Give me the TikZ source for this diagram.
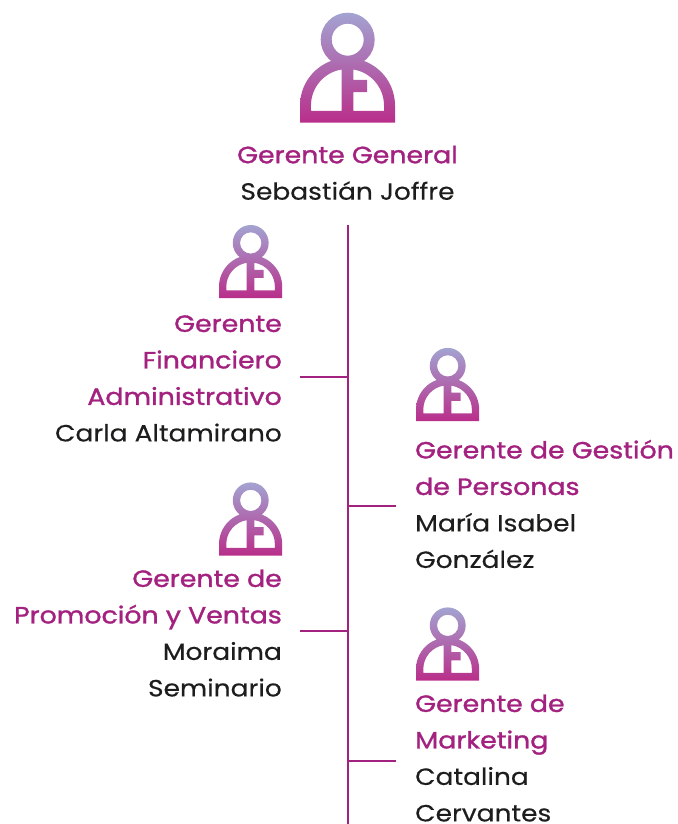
\documentclass[tikz,border=0pt]{standalone}
\usepackage{fontspec}
\setmainfont[FakeStretch=1.125,FakeBold=0.35]{Poppins}
\newfontfamily\titlefont[FakeStretch=1.14,FakeBold=1.3]{Poppins}
\definecolor{magentaTitle}{HTML}{A3217F}
\definecolor{bodyBlack}{HTML}{1D1D1B}
\definecolor{iconTop}{HTML}{A3A3D1}
\definecolor{iconBottom}{HTML}{B92E8A}
\newcommand{\strutline}{\rule{0pt}{18pt}}
\newcommand{\ttl}[1]{{\titlefont\color{magentaTitle}#1}}
\tikzset{
  lbl/.style={inner sep=0pt,font=\fontsize{23.5}{36.5}\selectfont,text=bodyBlack},
  lblR/.style={lbl,anchor=north east,align=right},
  lblL/.style={lbl,anchor=north west,align=left},
  lblC/.style={lbl,anchor=north,align=center},
  linkline/.style={draw=magentaTitle,line width=1.9pt},
}
\newcommand{\personicon}[3]{% x, y (top left), scale
  \begin{scope}[shift={(#1,#2)},scale=#3]
    \path[top color=iconTop,bottom color=iconBottom,nonzero rule]
      (47.7,0) arc[start angle=-90,end angle=270,radius=27] -- cycle
      (47.7,11) arc[start angle=-90,end angle=-450,radius=16] -- cycle
      (0,110) -- (0,92.8) arc[start angle=180,end angle=360,radius=47.5] -- (95,110) -- cycle
      (11,98.3) -- (41.7,98.3) -- (41.7,56.76) arc[start angle=260.9,end angle=180,radius=36.5] -- cycle
      (53.3,98.3) -- (84,98.3) -- (84,92.8) arc[start angle=0,end angle=-80.9,radius=36.5] -- (53.3,67.3) -- (67,67.3) -- (67,79.5) -- (53.3,79.5) -- cycle;
  \end{scope}
}
\begin{document}
\begin{tikzpicture}[x=1pt,y=-1pt]
\useasboundingbox (0,0) rectangle (677,824);
\personicon{300}{12.7}{1}
\personicon{219}{225}{0.665}
\personicon{416}{347.9}{0.665}
\personicon{219}{482.4}{0.665}
\personicon{416}{607.4}{0.665}

\node[lblC] (gg) at (347.5,145) {\strutline\ttl{Gerente General}\\Sebastián Joffre};
\node[lblR] (fin) at (282,313.7) {\strutline\ttl{Gerente}\\\ttl{Financiero}\\\ttl{Administrativo}\\Carla Altamirano};
\node[lblL] (per) at (415,439.7) {\strutline\ttl{Gerente de Gestión}\\\ttl{de Personas}\\María Isabel\\González};
\node[lblR] (pro) at (282,568.7) {\strutline\ttl{Gerente de}\\\ttl{Promoción y Ventas}\\Moraima\\Seminario};
\node[lblL] (mar) at (415,693.7) {\strutline\ttl{Gerente de}\\\ttl{Marketing}\\Catalina\\Cervantes};

\coordinate (top) at (347.9,225);
\coordinate (bot) at (347.9,824);
\coordinate (jfin) at (347.9,377);
\coordinate (jper) at (347.9,506);
\coordinate (jpro) at (347.9,631);
\coordinate (jmar) at (347.9,761);
\coordinate (efin) at (300,377);
\coordinate (eper) at (396,506);
\coordinate (epro) at (300,631);
\coordinate (emar) at (396,761);
\draw[linkline] (top) -- (bot);
\draw[linkline] (jfin) -- (efin);
\draw[linkline] (jper) -- (eper);
\draw[linkline] (jpro) -- (epro);
\draw[linkline] (jmar) -- (emar);
\end{tikzpicture}
\end{document}
